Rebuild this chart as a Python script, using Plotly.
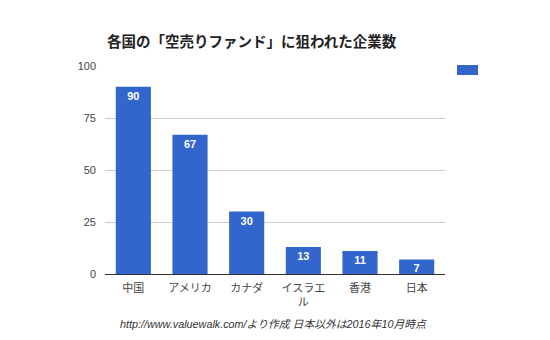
import plotly.graph_objects as go

categories = ["中国", "アメリカ", "カナダ", "イスラエ<br>ル", "香港", "日本"]
values = [90, 67, 30, 13, 11, 7]
y_ticks = [0, 25, 50, 75, 100]
title_text = "各国の「空売りファンド」に狙われた企業数"
source_text = "http://www.valuewalk.com/より作成 日本以外は2016年10月時点"

BLUE = "#3366cc"
FONT = "Liberation Sans, Arial, Noto Sans CJK JP, sans-serif"

fig = go.Figure()
fig.add_trace(go.Bar(
    x=categories, y=values, marker_color=BLUE, marker_line_width=0,
    text=["<b>" + str(v) + "</b>" for v in values], textposition="inside",
    insidetextanchor="end", textangle=0,
    textfont=dict(color="white", size=11, family="Liberation Sans, Arial, sans-serif"),
    showlegend=False, cliponaxis=False,
))

fig.update_layout(
    width=550, height=340,
    margin=dict(l=105, r=105, t=66, b=66),
    paper_bgcolor="white", plot_bgcolor="white",
    font=dict(family=FONT, size=11, color="#444444"),
    bargap=0.38,
    title=dict(text="<b>" + title_text + "</b>", x=107/550, xanchor="left",
               y=1 - 42/340, yanchor="middle",
               font=dict(size=14.5, color="#222222", family=FONT)),
    xaxis=dict(showgrid=False, ticks="", showline=False, tickfont=dict(size=11, color="#444444"),
               range=[-0.5, 5.5], ticklabelstandoff=6),
    yaxis=dict(range=[0, 100], tickvals=y_ticks, showgrid=True, gridcolor="#cccccc",
               gridwidth=1, zeroline=True, zerolinecolor="#333333", zerolinewidth=1,
               ticks="", tickfont=dict(size=11, color="#444444"), ticklabelstandoff=8),
    uniformtext=dict(mode="show", minsize=11),
)

fig.add_annotation(text="<i>" + source_text + "</i>", xref="paper", yref="paper",
                   x=(273 - 105) / 340, y=-(324 - 274) / 208, xanchor="center", yanchor="middle",
                   showarrow=False, font=dict(size=10.8, color="#333333", family=FONT))

# legend swatch (legend with no label)
fig.add_shape(type="rect", xref="paper", yref="paper",
              x0=(457 - 105) / 340, x1=(478 - 105) / 340,
              y0=(274 - 75) / 208, y1=(274 - 65) / 208,
              fillcolor=BLUE, line_width=0)

fig.write_html("out.html")
